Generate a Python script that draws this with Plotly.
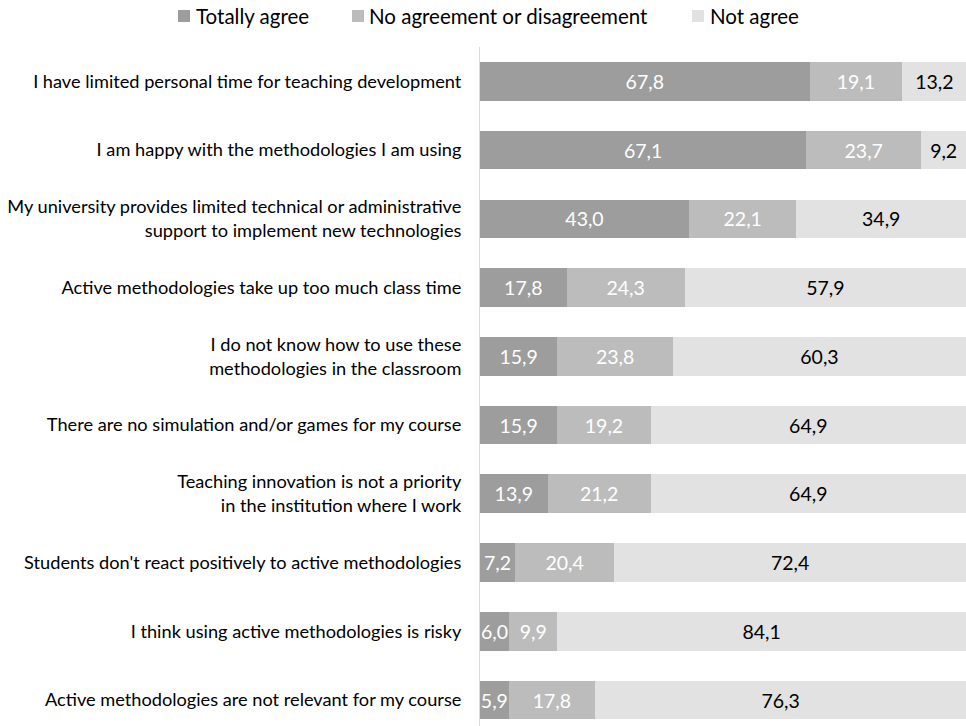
import plotly.graph_objects as go

# Survey statements (top to bottom) and the share of answers per response
statements = [
    "I have limited personal time for teaching development",
    "I am happy with the methodologies I am using",
    "My university provides limited technical or administrative<br>support to implement new technologies",
    "Active methodologies take up too much class time",
    "I do not know how to use these<br>methodologies in the classroom",
    "There are no simulation and/or games for my course",
    "Teaching innovation is not a priority<br>in the institution where I work",
    "Students don't react positively to active methodologies",
    "I think using active methodologies is risky",
    "Active methodologies are not relevant for my course",
]
totally_agree = [67.8, 67.1, 43.0, 17.8, 15.9, 15.9, 13.9, 7.2, 6.0, 5.9]
no_agreement = [19.1, 23.7, 22.1, 24.3, 23.8, 19.2, 21.2, 20.4, 9.9, 17.8]
not_agree = [13.2, 9.2, 34.9, 57.9, 60.3, 64.9, 64.9, 72.4, 84.1, 76.3]

series_names = ["Totally agree", "No agreement or disagreement", "Not agree"]
series_values = [totally_agree, no_agreement, not_agree]
series_colors = ["#9d9d9d", "#bcbcbc", "#e2e2e2"]
label_colors = ["#ffffff", "#ffffff", "#000000"]

FONT = "Lato, 'Open Sans', sans-serif"
VALUE_SIZE = 19.5
positions = list(range(len(statements)))

fig = go.Figure()
for name, vals, col, tcol in zip(series_names, series_values, series_colors, label_colors):
    fig.add_trace(go.Bar(
        y=positions, x=vals, name=name, orientation="h",
        marker=dict(color=col, line=dict(width=0)),
        width=0.563,
        texttemplate="%{x:.1f}", textposition="inside",
        insidetextanchor="middle", textangle=0,
        textfont=dict(color=tcol, size=VALUE_SIZE, family=FONT),
        showlegend=False,
    ))

# Legend drawn as swatches and labels centred above the plot
legend_items = [(178, 196), (352, 369), (692, 710)]
shapes = []
annotations = []
for (sq_x, txt_x), name, col in zip(legend_items, series_names, series_colors):
    shapes.append(dict(
        type="rect", xref="paper", yref="paper", xsizemode="pixel", ysizemode="pixel",
        xanchor=0, yanchor=1, x0=sq_x - 480, x1=sq_x - 480 + 12, y0=25, y1=37,
        fillcolor=col, line=dict(width=0),
    ))
    annotations.append(dict(
        text=name, xref="paper", yref="paper", x=0, y=1, xanchor="left", yanchor="middle",
        xshift=txt_x - 480 - 2, yshift=31, showarrow=False,
        font=dict(size=20.5, color="#000000", family=FONT),
    ))

fig.update_layout(
    width=966, height=726,
    margin=dict(l=480, r=0, t=47, b=0, pad=0),
    paper_bgcolor="white", plot_bgcolor="white",
    barmode="stack",
    separators=",.",
    font=dict(family=FONT, size=18, color="#000000"),
    uniformtext=dict(minsize=VALUE_SIZE, mode="show"),
    shapes=shapes, annotations=annotations,
    showlegend=False,
)
fig.update_xaxes(range=[0, 100], showgrid=False, showticklabels=False, zeroline=False,
                 showline=False, fixedrange=True)
fig.update_yaxes(range=[9.378, -0.5], tickmode="array", tickvals=positions,
                 ticktext=statements, showgrid=False, zeroline=False,
                 showline=True, linecolor="#d9d9d9", linewidth=1,
                 ticks="", ticklabelstandoff=14,
                 tickfont=dict(size=18.2, color="#000000", family=FONT))

fig.write_html("out.html")
